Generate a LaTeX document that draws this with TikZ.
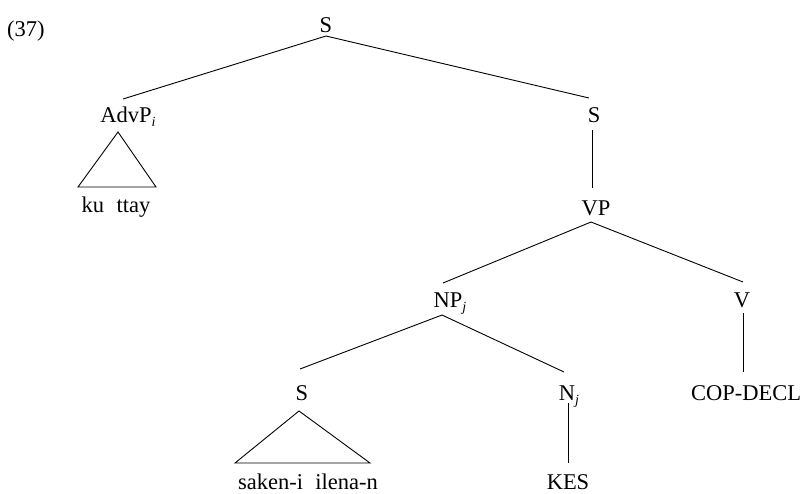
\documentclass[tikz,border=0pt]{standalone}
\usepackage{fontspec}
\setmainfont{Liberation Serif}
\newcommand{\idx}[1]{\raisebox{-0.4ex}{\fontsize{14}{16}\selectfont\itshape #1}}
\tikzset{
  lab/.style={anchor=base, inner sep=0pt, font=\fontsize{22.5}{26}\selectfont},
  edge/.style={line width=0.9pt},
}
\begin{document}
\begin{tikzpicture}[x=1pt,y=-1pt]
\useasboundingbox (0,0) rectangle (805,493);
% labels
\node[lab, anchor=base west] (ex) at (7,36) {(37)};
\node[lab] (s0) at (326,32) {S};
\node[lab] (advp) at (128,122) {AdvP\idx{i}};
\node[lab] (s1) at (594,122) {S};
\node[lab] (kutt) at (116,212) {ku\hspace{0.55em}ttay};
\node[lab] (vp) at (596,215) {VP};
\node[lab] (np) at (450,307) {NP\idx{j}};
\node[lab] (v) at (742,307) {V};
\node[lab] (s2) at (302,400) {S};
\node[lab] (n) at (569,400) {N\idx{j}};
\node[lab] (cop) at (746,400) {COP-DECL};
\node[lab] (saken) at (308,489) {saken-i\hspace{0.55em}ilena-n};
\node[lab] (kes) at (568,489) {KES};
% connector ends
\coordinate (s0b) at (326,36);
\coordinate (advpt) at (123,99);
\coordinate (s1t) at (589,98);
\coordinate (s1b) at (592,130);
\coordinate (vpt) at (592,188);
\coordinate (vpb) at (591,222);
\coordinate (npt) at (443,283);
\coordinate (vt) at (743,282);
\coordinate (vb) at (743,313);
\coordinate (copt) at (743,372);
\coordinate (npb) at (442,315);
\coordinate (s2t) at (300,369);
\coordinate (nt) at (564,372);
\coordinate (nb) at (568,403);
\coordinate (kest) at (568,463);
% edges
\draw[edge] (s0b) -- (advpt);
\draw[edge] (s0b) -- (s1t);
\draw[edge] (s1b) -- (vpt);
\draw[edge] (vpb) -- (npt);
\draw[edge] (vpb) -- (vt);
\draw[edge] (vb) -- (copt);
\draw[edge] (npb) -- (s2t);
\draw[edge] (npb) -- (nt);
\draw[edge] (nb) -- (kest);
% triangles
\draw[edge] (118,132) -- (78,187) -- (156,187) -- cycle;
\draw[edge] (299,411) -- (235,463) -- (370,463) -- cycle;
\end{tikzpicture}
\end{document}
